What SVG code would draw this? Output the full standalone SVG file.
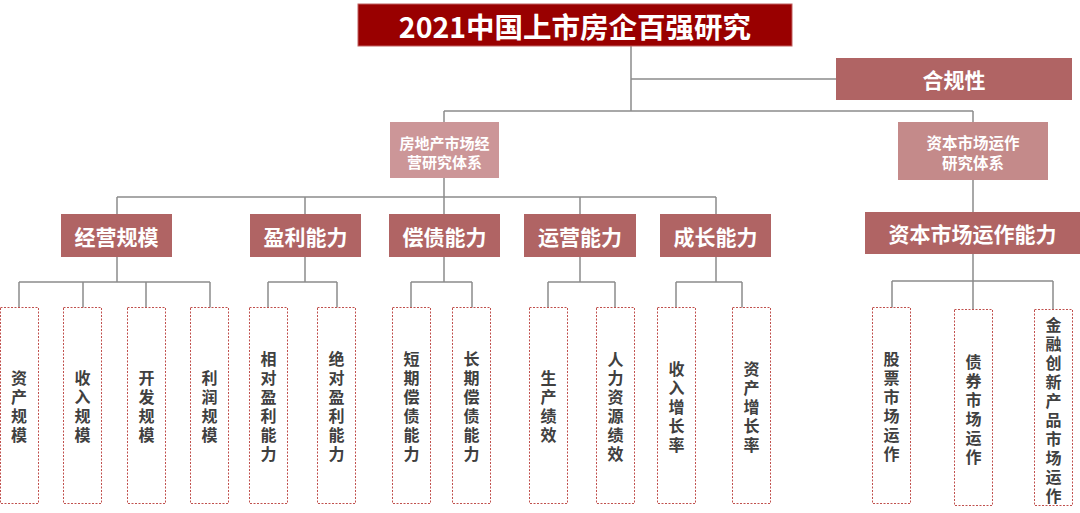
<svg xmlns="http://www.w3.org/2000/svg" width="1080" height="513" viewBox="0 0 1080 513">
<style>
.t{font-family:"Noto Sans CJK SC","Liberation Sans",sans-serif;font-weight:bold;fill:#fff;text-anchor:middle;dominant-baseline:central}
.cat{fill:#B06464}
.leafbox{fill:#fff;stroke:#C0504D;stroke-width:1;stroke-dasharray:2 1.5}
.lt{font-family:"Noto Sans CJK SC","Liberation Sans",sans-serif;font-weight:bold;fill:#404040;font-size:16px;text-anchor:middle;dominant-baseline:central}
.c{fill:none;stroke:#8C8C8C;stroke-width:1.5}
</style>
<rect width="1080" height="513" fill="#fff"/>
<g id="connectors">
<path class="c" d="M631,46V111M631,79H836M444,111H973M444,111V122M973,111V122M444,178V197M117,197H716M117,197V214M305,197V214M444,197V214M580,197V214M716,197V214M973,180V212"/>
<path class="c" d="M117,257V282M19,282H210M19,282V308M83,282V308M146,282V308M210,282V308"/>
<path class="c" d="M305,257V282M268,282H337M268,282V308M337,282V308"/>
<path class="c" d="M444,257V282M411,282H472M411,282V308M472,282V308"/>
<path class="c" d="M580,257V282M548,282H615M548,282V308M615,282V308"/>
<path class="c" d="M716,257V282M676,282H742M676,282V308M742,282V308"/>
<path class="c" d="M973,254V281M892,281H1053M892,281V308M973,281V310M1053,281V310"/>
</g>
<g id="title"><rect x="358" y="4" width="434" height="42" fill="#990000" stroke="#C06060" stroke-width="1"/><text class="t" x="575" y="25.5" font-size="28.5">2021中国上市房企百强研究</text></g>
<g id="compliance"><rect x="836" y="58" width="236" height="42" class="cat"/><text class="t" x="954" y="79" font-size="21">合规性</text></g>
<g id="realestate"><rect x="390" y="122" width="109" height="56" fill="#CC9698"/><text class="t" font-size="15"><tspan x="444.5" y="141.5">房地产市场经</tspan><tspan x="444.5" y="161">营研究体系</tspan></text></g>
<g id="capital"><rect x="898" y="122" width="150" height="58" fill="#C48A8A"/><text class="t" font-size="15.5"><tspan x="973" y="142">资本市场运作</tspan><tspan x="973" y="162">研究体系</tspan></text></g>
<g id="cat1"><rect x="61" y="214" width="111" height="43" class="cat"/><text class="t" x="116.5" y="235.5" font-size="21">经营规模</text></g>
<g id="cat2"><rect x="250" y="214" width="111" height="43" class="cat"/><text class="t" x="305.5" y="235.5" font-size="21">盈利能力</text></g>
<g id="cat3"><rect x="389" y="214" width="111" height="43" class="cat"/><text class="t" x="444.5" y="235.5" font-size="21">偿债能力</text></g>
<g id="cat4"><rect x="524" y="214" width="112" height="43" class="cat"/><text class="t" x="580" y="235.5" font-size="21">运营能力</text></g>
<g id="cat5"><rect x="660" y="214" width="111" height="43" class="cat"/><text class="t" x="715.5" y="235.5" font-size="21">成长能力</text></g>
<g id="cat6"><rect x="865" y="212" width="215" height="42" class="cat"/><text class="t" x="972.5" y="233" font-size="21">资本市场运作能力</text></g>

<g id="leaf1"><rect class="leafbox" x="0.5" y="307.5" width="38" height="196"/><text class="lt"><tspan x="19" y="377">资</tspan><tspan x="19" y="396">产</tspan><tspan x="19" y="415">规</tspan><tspan x="19" y="434">模</tspan></text></g>
<g id="leaf2"><rect class="leafbox" x="63.5" y="307.5" width="38" height="196"/><text class="lt"><tspan x="82.5" y="377">收</tspan><tspan x="82.5" y="396">入</tspan><tspan x="82.5" y="415">规</tspan><tspan x="82.5" y="434">模</tspan></text></g>
<g id="leaf3"><rect class="leafbox" x="127.5" y="307.5" width="38" height="196"/><text class="lt"><tspan x="146.5" y="377">开</tspan><tspan x="146.5" y="396">发</tspan><tspan x="146.5" y="415">规</tspan><tspan x="146.5" y="434">模</tspan></text></g>
<g id="leaf4"><rect class="leafbox" x="190.5" y="307.5" width="38" height="196"/><text class="lt"><tspan x="209.5" y="377">利</tspan><tspan x="209.5" y="396">润</tspan><tspan x="209.5" y="415">规</tspan><tspan x="209.5" y="434">模</tspan></text></g>
<g id="leaf5"><rect class="leafbox" x="249.5" y="307.5" width="38" height="196"/><text class="lt"><tspan x="268.5" y="358">相</tspan><tspan x="268.5" y="377">对</tspan><tspan x="268.5" y="396">盈</tspan><tspan x="268.5" y="415">利</tspan><tspan x="268.5" y="434">能</tspan><tspan x="268.5" y="453">力</tspan></text></g>
<g id="leaf6"><rect class="leafbox" x="317.5" y="307.5" width="38" height="196"/><text class="lt"><tspan x="336.5" y="358">绝</tspan><tspan x="336.5" y="377">对</tspan><tspan x="336.5" y="396">盈</tspan><tspan x="336.5" y="415">利</tspan><tspan x="336.5" y="434">能</tspan><tspan x="336.5" y="453">力</tspan></text></g>
<g id="leaf7"><rect class="leafbox" x="392.5" y="307.5" width="38" height="196"/><text class="lt"><tspan x="411.5" y="358">短</tspan><tspan x="411.5" y="377">期</tspan><tspan x="411.5" y="396">偿</tspan><tspan x="411.5" y="415">债</tspan><tspan x="411.5" y="434">能</tspan><tspan x="411.5" y="453">力</tspan></text></g>
<g id="leaf8"><rect class="leafbox" x="452.5" y="307.5" width="38" height="196"/><text class="lt"><tspan x="471.5" y="358">长</tspan><tspan x="471.5" y="377">期</tspan><tspan x="471.5" y="396">偿</tspan><tspan x="471.5" y="415">债</tspan><tspan x="471.5" y="434">能</tspan><tspan x="471.5" y="453">力</tspan></text></g>
<g id="leaf9"><rect class="leafbox" x="529.5" y="307.5" width="38" height="196"/><text class="lt"><tspan x="548.5" y="377">生</tspan><tspan x="548.5" y="396">产</tspan><tspan x="548.5" y="415">绩</tspan><tspan x="548.5" y="434">效</tspan></text></g>
<g id="leaf10"><rect class="leafbox" x="596.5" y="307.5" width="38" height="196"/><text class="lt"><tspan x="615.5" y="358">人</tspan><tspan x="615.5" y="377">力</tspan><tspan x="615.5" y="396">资</tspan><tspan x="615.5" y="415">源</tspan><tspan x="615.5" y="434">绩</tspan><tspan x="615.5" y="453">效</tspan></text></g>
<g id="leaf11"><rect class="leafbox" x="657.5" y="307.5" width="38" height="196"/><text class="lt"><tspan x="676.5" y="368">收</tspan><tspan x="676.5" y="387">入</tspan><tspan x="676.5" y="406">增</tspan><tspan x="676.5" y="425">长</tspan><tspan x="676.5" y="444">率</tspan></text></g>
<g id="leaf12"><rect class="leafbox" x="732.5" y="307.5" width="38" height="196"/><text class="lt"><tspan x="751.5" y="368">资</tspan><tspan x="751.5" y="387">产</tspan><tspan x="751.5" y="406">增</tspan><tspan x="751.5" y="425">长</tspan><tspan x="751.5" y="444">率</tspan></text></g>
<g id="leaf13"><rect class="leafbox" x="872.5" y="307.5" width="38" height="196"/><text class="lt"><tspan x="891.5" y="358">股</tspan><tspan x="891.5" y="377">票</tspan><tspan x="891.5" y="396">市</tspan><tspan x="891.5" y="415">场</tspan><tspan x="891.5" y="434">运</tspan><tspan x="891.5" y="453">作</tspan></text></g>
<g id="leaf14"><rect class="leafbox" x="954.5" y="309.5" width="38" height="196"/><text class="lt"><tspan x="973.5" y="361">债</tspan><tspan x="973.5" y="380">券</tspan><tspan x="973.5" y="399">市</tspan><tspan x="973.5" y="418">场</tspan><tspan x="973.5" y="437">运</tspan><tspan x="973.5" y="456">作</tspan></text></g>
<g id="leaf15"><rect class="leafbox" x="1034.5" y="309.5" width="38" height="196"/><text class="lt"><tspan x="1053.5" y="324">金</tspan><tspan x="1053.5" y="343">融</tspan><tspan x="1053.5" y="362">创</tspan><tspan x="1053.5" y="381">新</tspan><tspan x="1053.5" y="400">产</tspan><tspan x="1053.5" y="419">品</tspan><tspan x="1053.5" y="438">市</tspan><tspan x="1053.5" y="457">场</tspan><tspan x="1053.5" y="476">运</tspan><tspan x="1053.5" y="495">作</tspan></text></g>
</svg>
